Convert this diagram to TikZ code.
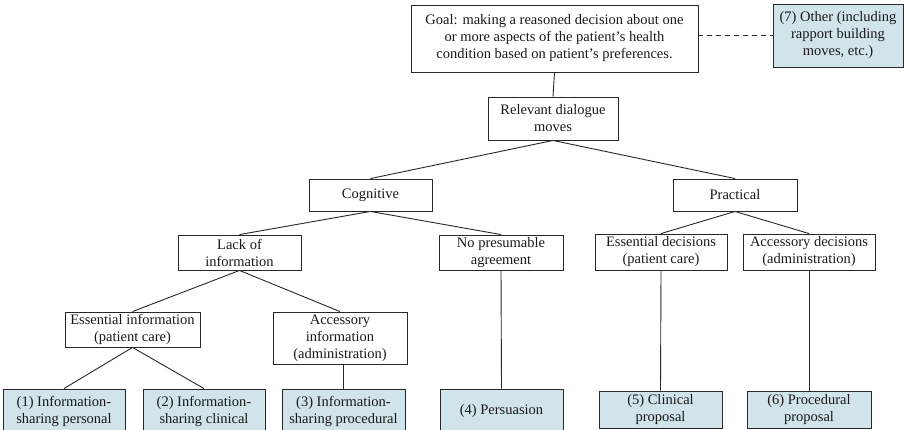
\documentclass[tikz,border=0pt]{standalone}
\usepackage{fontspec}
\setmainfont{Liberation Serif}
\definecolor{leaf}{RGB}{208,228,234}
\definecolor{edge}{RGB}{40,40,40}
\begin{document}
\begin{tikzpicture}[x=1pt,y=-1pt,
  box/.style={draw=edge, line width=0.9pt, inner sep=0pt, align=center, text=black!90,
    font=\fontsize{14.5}{17}\selectfont},
  leafbox/.style={box, fill=leaf},
  conn/.style={draw=edge, line width=0.9pt}]
\useasboundingbox (0,0) rectangle (904,429);
\clip (0,0) rectangle (904,429);
\node[box, minimum width=287pt, minimum height=67pt] (goal) at (554.5,38.5)
  {Goal: making a reasoned decision about one\\or more aspects of the patient's health\\condition based on patient's preferences.};
\node[leafbox, minimum width=130pt, minimum height=63pt] (other) at (838,35.5)
  {(7) Other (including\\rapport building\\moves, etc.)};
\node[box, minimum width=130pt, minimum height=43pt] (rel) at (553,118.5) {Relevant dialogue\\moves};
\node[box, minimum width=123pt, minimum height=32pt] (cog) at (370.5,195) {Cognitive};
\node[box, minimum width=124pt, minimum height=32pt] (prac) at (735,195) {Practical};
\node[box, minimum width=123pt, minimum height=35pt] (lack) at (239.5,252.5) {Lack of\\information};
\node[box, minimum width=124pt, minimum height=35pt] (nopres) at (501,252.5) {No presumable\\agreement};
\node[box, minimum width=132pt, minimum height=36pt] (essdec) at (661,252) {Essential decisions\\(patient care)};
\node[box, minimum width=132pt, minimum height=36pt] (accdec) at (809,252) {Accessory decisions\\(administration)};
\node[box, minimum width=135pt, minimum height=35pt] (essinf) at (132.5,329.5) {Essential information\\(patient care)};
\node[box, minimum width=134pt, minimum height=52pt] (accinf) at (340,338) {Accessory\\information\\(administration)};
\node[leafbox, minimum width=122pt, minimum height=44pt] (b1) at (64,411) {(1) Information-\\sharing personal};
\node[leafbox, minimum width=122pt, minimum height=44pt] (b2) at (204,411) {(2) Information-\\sharing clinical};
\node[leafbox, minimum width=123pt, minimum height=44pt] (b3) at (343.5,411) {(3) Information-\\sharing procedural};
\node[leafbox, minimum width=123pt, minimum height=44pt] (b4) at (501.5,411) {(4) Persuasion};
\node[leafbox, minimum width=123pt, minimum height=37pt] (b5) at (660.5,409.5) {(5) Clinical\\proposal};
\node[leafbox, minimum width=124pt, minimum height=37pt] (b6) at (809,409.5) {(6) Procedural\\proposal};
\draw[conn, dashed, dash pattern=on 5pt off 4pt] (goal.east |- other.west) -- (other.west);
\draw[conn] (goal.south) -- (rel.north);
\draw[conn] (rel.south) -- (cog.north);
\draw[conn] (rel.south) -- (prac.north);
\draw[conn] (cog.south) -- (lack.north);
\draw[conn] (cog.south) -- (nopres.north);
\draw[conn] (prac.south) -- (essdec.north);
\draw[conn] (prac.south) -- (accdec.north);
\draw[conn] (lack.south) -- (essinf.north);
\draw[conn] (lack.south) -- (accinf.north);
\draw[conn] (essinf.south) -- (b1.north);
\draw[conn] (essinf.south) -- (b2.north);
\draw[conn] (b3.north) -- (b3.north |- accinf.south);
\draw[conn] (nopres.south) -- (b4.north);
\draw[conn] (essdec.south) -- (b5.north);
\draw[conn] (accdec.south) -- (b6.north);
\end{tikzpicture}
\end{document}
